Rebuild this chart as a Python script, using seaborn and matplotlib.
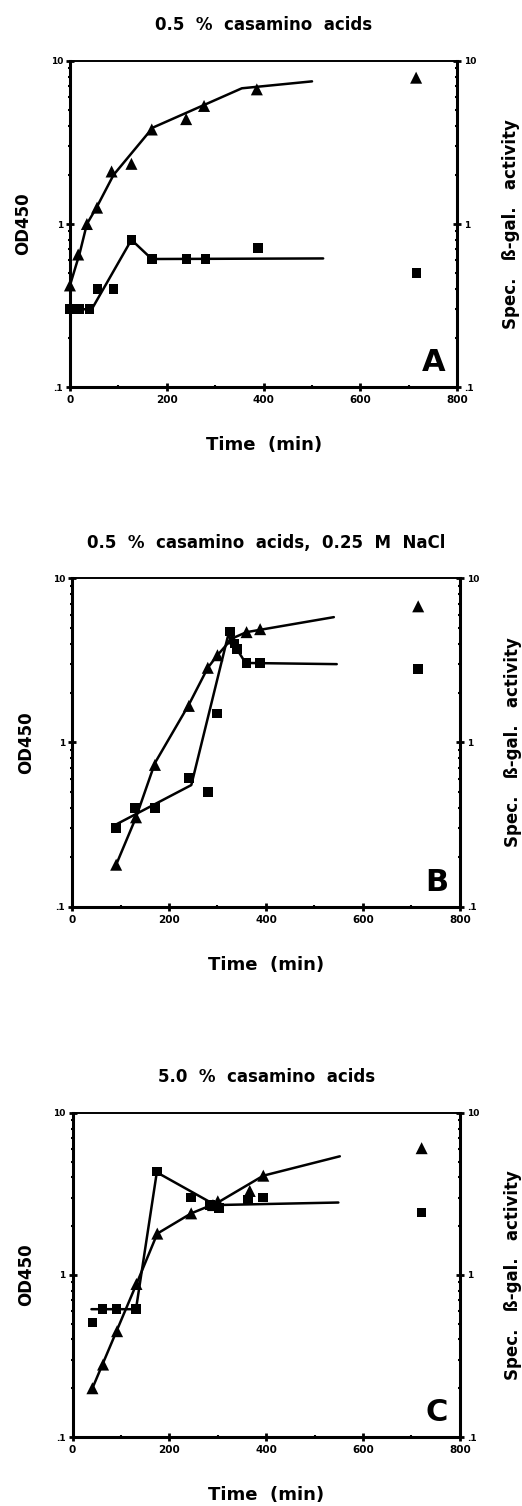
import matplotlib

matplotlib.use("Agg")
import matplotlib.pyplot as plt
import numpy as np
import pandas as pd
import seaborn as sns
from matplotlib.ticker import LogLocator, NullFormatter

# Panel A: 0.5 % casamino acids
a_tri_t = [0, 17, 35, 56, 86, 127, 169, 240, 277, 386, 715]
a_tri_y = [0.42, 0.65, 1.0, 1.26, 2.1, 2.34, 3.8, 4.4, 5.3, 6.7, 7.9]
a_sq_t = [0, 20, 40, 57, 90, 127, 170, 241, 280, 388, 716]
a_sq_y = [0.30, 0.30, 0.30, 0.40, 0.40, 0.80, 0.61, 0.61, 0.61, 0.71, 0.50]
a_tri_fit_t = [0, 20, 35, 56, 90, 171, 355, 500]
a_tri_fit_y = [0.42, 0.66, 1.0, 1.28, 2.0, 3.9, 6.8, 7.5]
a_sq_fit_t = [0, 45, 127, 169, 523]
a_sq_fit_y = [0.30, 0.30, 0.80, 0.61, 0.615]

# Panel B: 0.5 % casamino acids, 0.25 M NaCl
b_tri_t = [91, 132, 171, 241, 280, 300, 330, 360, 388, 714]
b_tri_y = [0.18, 0.35, 0.73, 1.67, 2.85, 3.4, 4.3, 4.7, 4.9, 6.75]
b_sq_t = [91, 130, 171, 241, 281, 299, 326, 335, 340, 360, 388, 714]
b_sq_y = [0.30, 0.40, 0.40, 0.61, 0.50, 1.5, 4.75, 4.0, 3.7, 3.05, 3.05, 2.8]
b_tri_fit_t = [91, 132, 171, 241, 280, 300, 330, 360, 540]
b_tri_fit_y = [0.18, 0.35, 0.75, 1.7, 2.85, 3.4, 4.3, 4.7, 5.8]
b_sq_fit_t = [85, 246, 322, 340, 358, 546]
b_sq_fit_y = [0.31, 0.55, 4.5, 3.7, 3.05, 3.0]

# Panel C: 5.0 % casamino acids
c_tri_t = [41, 63, 92, 132, 175, 245, 290, 300, 366, 394, 721]
c_tri_y = [0.20, 0.28, 0.45, 0.88, 1.8, 2.4, 2.7, 2.85, 3.3, 4.1, 6.06]
c_sq_t = [41, 62, 91, 131, 174, 244, 284, 303, 363, 393, 721]
c_sq_y = [0.51, 0.615, 0.615, 0.615, 4.34, 3.0, 2.7, 2.6, 2.9, 3.0, 2.43]
c_tri_fit_t = [41, 132, 175, 245, 300, 394, 552]
c_tri_fit_y = [0.20, 0.88, 1.8, 2.4, 2.8, 4.1, 5.4]
c_sq_fit_t = [39, 131, 174, 295, 549]
c_sq_fit_y = [0.615, 0.615, 4.3, 2.7, 2.8]

titles = ["0.5  %  casamino  acids",
          "0.5  %  casamino  acids,  0.25  M  NaCl",
          "5.0  %  casamino  acids"]
letters = ["A", "B", "C"]
ytick_vals = [0.1, 1, 10]
ytick_labels = [".1", "1", "10"]
xtick_vals = [0, 200, 400, 600, 800]

sns.set_style("ticks")
plt.rcParams["font.family"] = ["DejaVu Sans"]
plt.rcParams["font.weight"] = "bold"
for key in ["text.color", "axes.labelcolor", "xtick.color", "ytick.color",
            "axes.edgecolor"]:
    plt.rcParams[key] = "black"


def style_log_axis(ax):
    ax.set_yscale("log")
    ax.set_ylim(0.1, 10)
    ax.set_yticks(ytick_vals, ytick_labels)
    ax.yaxis.set_minor_locator(LogLocator(base=10, subs=np.arange(2, 10)))
    ax.yaxis.set_minor_formatter(NullFormatter())
    ax.tick_params(axis="y", which="major", direction="inout", length=6, width=2,
                   labelsize=6.5, pad=2)
    ax.tick_params(axis="y", which="minor", direction="inout", length=3.5, width=1.5)


def draw_panel(ax, title, letter, tri_t, tri_y, sq_t, sq_y,
               tri_fit_t, tri_fit_y, sq_fit_t, sq_fit_y):
    sns.lineplot(x=tri_fit_t, y=tri_fit_y, ax=ax, color="black", lw=1.8, sort=False)
    sns.lineplot(x=sq_fit_t, y=sq_fit_y, ax=ax, color="black", lw=1.8, sort=False)
    pts = pd.DataFrame({
        "t": tri_t + sq_t,
        "y": tri_y + sq_y,
        "kind": ["tri"] * len(tri_t) + ["sq"] * len(sq_t),
    })
    sns.scatterplot(data=pts, x="t", y="y", style="kind", size="kind",
                    markers={"tri": "^", "sq": "s"}, sizes={"tri": 75, "sq": 48},
                    color="black", linewidth=0, ax=ax, legend=False, zorder=3,
                    clip_on=False)
    ax.set_xlim(0, 800)
    style_log_axis(ax)
    ax.set_xticks(xtick_vals)
    ax.xaxis.set_minor_locator(plt.MultipleLocator(100))
    ax.tick_params(axis="x", which="major", direction="inout", length=6, width=2,
                   labelsize=7.5, pad=3)
    ax.tick_params(axis="x", which="minor", direction="inout", length=3.5, width=1.5)
    for side in ["left", "bottom"]:
        ax.spines[side].set_linewidth(2.2)
    ax.spines["top"].set_linewidth(1.4)
    ax.spines["right"].set_visible(False)

    ax2 = ax.twinx()
    style_log_axis(ax2)
    for side in ["left", "top", "bottom"]:
        ax2.spines[side].set_visible(False)
    ax2.spines["right"].set_linewidth(2.2)

    ax.set_title(title, fontsize=12, fontweight="bold", pad=22)
    ax.set_xlabel("Time  (min)", fontsize=13, fontweight="bold", labelpad=22)
    ax.set_ylabel("OD450", fontsize=12, fontweight="bold", labelpad=13)
    ax2.set_ylabel("Spec.   ß-gal.   activity", fontsize=12, fontweight="bold",
                   labelpad=18)
    ax.text(0.97, 0.03, letter, transform=ax.transAxes, ha="right", va="bottom",
            fontsize=22, fontweight="bold")


fig = plt.figure(figsize=(5.22, 15.06), dpi=100)
boxes = [
    [0.134, 0.743, 0.742, 0.2165],
    [0.138, 0.398, 0.743, 0.218],
    [0.139, 0.0458, 0.742, 0.2152],
]
panel_data = [
    (a_tri_t, a_tri_y, a_sq_t, a_sq_y, a_tri_fit_t, a_tri_fit_y, a_sq_fit_t, a_sq_fit_y),
    (b_tri_t, b_tri_y, b_sq_t, b_sq_y, b_tri_fit_t, b_tri_fit_y, b_sq_fit_t, b_sq_fit_y),
    (c_tri_t, c_tri_y, c_sq_t, c_sq_y, c_tri_fit_t, c_tri_fit_y, c_sq_fit_t, c_sq_fit_y),
]
for box, title, letter, data in zip(boxes, titles, letters, panel_data):
    ax = fig.add_axes(box)
    draw_panel(ax, title, letter, *data)

fig.savefig("out.png", dpi=100)
plt.close(fig)
